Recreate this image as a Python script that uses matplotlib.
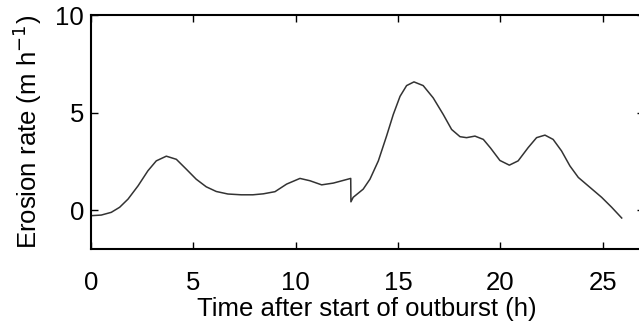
import matplotlib
matplotlib.use("Agg")
import matplotlib.pyplot as plt

# time (h) and erosion rate (m/h)
hours = [0.02, 0.50, 0.99, 1.40, 1.81, 2.30, 2.78, 3.19, 3.68, 4.17, 4.66, 5.14,
         5.63, 6.12, 6.69, 7.34, 7.91, 8.42, 8.99, 9.56, 10.21, 10.70, 11.27,
         11.84, 12.69, 12.70, 12.81, 13.30, 13.63, 14.04, 14.44, 14.77, 15.10,
         15.42, 15.78, 16.23, 16.72, 17.21, 17.62, 18.03, 18.35, 18.76, 19.17,
         19.52, 19.98, 20.44, 20.87, 21.36, 21.77, 22.18, 22.58, 22.99, 23.40,
         23.81, 24.38, 24.95, 25.44, 25.93]
erosion = [-0.29, -0.26, -0.12, 0.14, 0.56, 1.24, 2.01, 2.52, 2.76, 2.60, 2.09, 1.58,
           1.19, 0.95, 0.82, 0.78, 0.78, 0.83, 0.94, 1.33, 1.62, 1.50, 1.29,
           1.38, 1.62, 0.42, 0.65, 1.07, 1.58, 2.52, 3.79, 4.90, 5.83,
           6.38, 6.57, 6.38, 5.75, 4.90, 4.13, 3.76, 3.71, 3.79, 3.62,
           3.18, 2.54, 2.30, 2.52, 3.20, 3.71, 3.84, 3.62, 3.03, 2.26,
           1.67, 1.16, 0.65, 0.14, -0.41]

xticks = [0, 5, 10, 15, 20, 25]
yticks = [0, 5, 10]

plt.rcParams['font.family'] = ['Liberation Sans', 'DejaVu Sans']

fig = plt.figure(figsize=(6.39, 3.22), dpi=100)
ax = fig.add_axes([0.1424, 0.2267, 0.8648, 0.7267])

ax.plot(hours, erosion, color='#333333', lw=1.1)

ax.set_xlim(0, 27)
ax.set_ylim(-2, 10)
ax.set_xticks(xticks)
ax.set_yticks(yticks)
ax.tick_params(direction='in', length=5, width=1, labelsize=18.5,
               top=True, right=True)
ax.tick_params(axis='x', pad=16)
ax.tick_params(axis='y', pad=5)
for s in ax.spines.values():
    s.set_linewidth(1.5)

ax.set_xlabel('Time after start of outburst (h)', fontsize=18.5, labelpad=1)
ax.set_ylabel('Erosion rate (m h$^{-1}$)', fontsize=18.5, labelpad=8)

fig.savefig('out.png', dpi=100)
